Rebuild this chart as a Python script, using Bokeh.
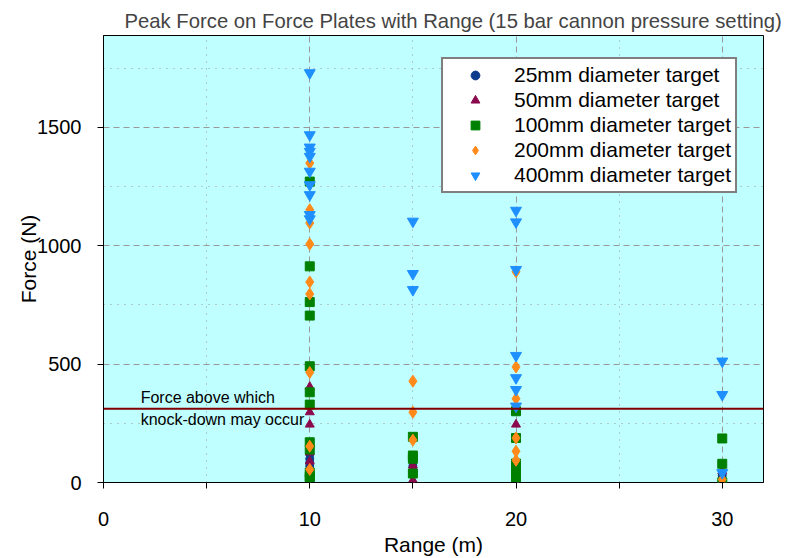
from bokeh.plotting import figure
from bokeh.models import FixedTicker, Span, Label, Range1d
from bokeh.embed import file_html
from bokeh.resources import INLINE

# ---- data ----
x25 = [10, 10, 10, 10, 15, 15, 20, 20, 30]
y25 = [120, 100, 85, 70, 70, 40, 30, 15, 30]

x50 = [10, 10, 10, 10, 10, 10, 15, 15, 15, 20, 20, 20, 30, 30]
y50 = [404, 297, 245, 127, 89, 60, 72, 60, 10, 245, 20, 5, 48, 5]

x100 = [10, 10, 10, 10, 10, 10, 10, 10, 10, 10, 10, 10,
        15, 15, 15, 15, 20, 20, 20, 20, 20, 20, 20, 30, 30, 30]
y100 = [1271, 913, 762, 705, 491, 381, 329, 170, 139, 42, 25, 13,
        193, 114, 100, 38, 301, 188, 80, 65, 50, 35, 20, 186, 79, 1]

x200 = [10, 10, 10, 10, 10, 10, 10, 10, 10, 15, 15, 15,
        20, 20, 20, 20, 20, 20, 30]
y200 = [1349, 1152, 1096, 1007, 847, 796, 465, 153, 55, 428, 297, 179,
        890, 488, 354, 188, 132, 94, 13]

x400 = [10, 10, 10, 10, 10, 10, 10, 10, 10, 10, 15, 15, 15,
        20, 20, 20, 20, 20, 20, 20, 30, 30, 30]
y400 = [1730, 1468, 1416, 1398, 1377, 1314, 1257, 1215, 1131, 1113, 1103, 882, 814,
        1149, 1100, 899, 536, 442, 392, 322, 512, 371, 41]

knockdown_force = 312
x_major = [0, 10, 20, 30]
x_minor = [5, 15, 25]
y_major = [0, 500, 1000, 1500]
y_minor = [250, 750, 1250, 1750]

FONT = "Liberation Sans"

p = figure(width=785, height=558, output_backend="svg", toolbar_location=None,
           x_range=Range1d(0, 32), y_range=Range1d(0, 1888),
           min_border_left=103, min_border_right=22, min_border_top=35, min_border_bottom=75)

p.title.text = "Peak Force on Force Plates with Range (15 bar cannon pressure setting)"
p.title.text_font = FONT
p.title.text_font_size = "20.3px"
p.title.text_font_style = "normal"
p.title.align = "left"
p.title.offset = 21
p.title.standoff = 7

p.background_fill_color = "#c0ffff"
p.border_fill_color = "white"
p.outline_line_color = "black"
p.outline_line_width = 1

# grids
p.xgrid.ticker = FixedTicker(ticks=x_major, minor_ticks=x_minor)
p.ygrid.ticker = FixedTicker(ticks=y_major, minor_ticks=y_minor)
for g in (p.xgrid, p.ygrid):
    g.grid_line_color = "#999999"
    g.grid_line_dash = "6 4"
    g.grid_line_width = 1
    g.minor_grid_line_color = "#999999"
    g.minor_grid_line_dash = "1 6"
    g.minor_grid_line_width = 1

# axes
p.xaxis.ticker = FixedTicker(ticks=x_major, minor_ticks=x_minor)
p.yaxis.ticker = FixedTicker(ticks=y_major, minor_ticks=y_minor)
for ax in (p.xaxis, p.yaxis):
    ax.axis_line_color = "black"
    ax.major_tick_line_color = "black"
    ax.minor_tick_line_color = "black"
    ax.major_tick_in = 0
    ax.major_tick_out = 6
    ax.minor_tick_in = 0
    ax.major_label_text_font = FONT
    ax.major_label_text_font_size = "20px"
    ax.major_label_text_color = "black"
    ax.axis_label_text_font = FONT
    ax.axis_label_text_font_size = "21px"
    ax.axis_label_text_font_style = "normal"
    ax.axis_label_text_color = "black"
p.xaxis.minor_tick_out = 6
p.yaxis.minor_tick_out = 0
p.xaxis.major_label_standoff = 23
p.yaxis.major_label_standoff = 16
p.xaxis.axis_label_standoff = 4
p.yaxis.axis_label_standoff = -6
p.xaxis.axis_label = "Range (m)"
p.yaxis.axis_label = "Force (N)"
p.xaxis.axis_line_dash = "5 3"

zero = Span(location=0, dimension="width", line_color="black", line_dash="5 3", line_width=1)
p.add_layout(zero)

# knock-down threshold
kd = Span(location=knockdown_force, dimension="width", line_color="#800000", line_width=2)
p.add_layout(kd)
p.add_layout(Label(x=1.8, y=359, text="Force above which", text_font=FONT,
                   text_font_size="16px", text_baseline="middle", text_color="black"))
p.add_layout(Label(x=1.8, y=266, text="knock-down may occur", text_font=FONT,
                   text_font_size="16px", text_baseline="middle", text_color="black"))

# series
p.scatter(x25, y25, marker="circle", size=8, color="#0b3d8c", legend_label="25mm diameter target")
p.scatter(x50, y50, marker="triangle", size=9, color="#8b0a4e", legend_label="50mm diameter target")
p.scatter(x100, y100, marker="square", size=9, color="#008000", legend_label="100mm diameter target")
p.scatter(x200, y200, marker="diamond", size=12, color="#ff8a1a", legend_label="200mm diameter target")
p.scatter(x400, y400, marker="inverted_triangle", size=11, color="#1e8fff", legend_label="400mm diameter target")

lg = p.legend[0]
lg.location = (338, 289)
lg.background_fill_color = "white"
lg.background_fill_alpha = 1
lg.border_line_color = "black"
lg.border_line_width = 2
lg.label_text_font = FONT
lg.label_text_font_size = "21px"
lg.label_text_color = "black"
lg.padding = 4
lg.margin = 0
lg.spacing = 1
lg.glyph_width = 56
lg.glyph_height = 22
lg.label_height = 22
lg.label_standoff = 11

open("out.html", "w").write(file_html(p, INLINE))
